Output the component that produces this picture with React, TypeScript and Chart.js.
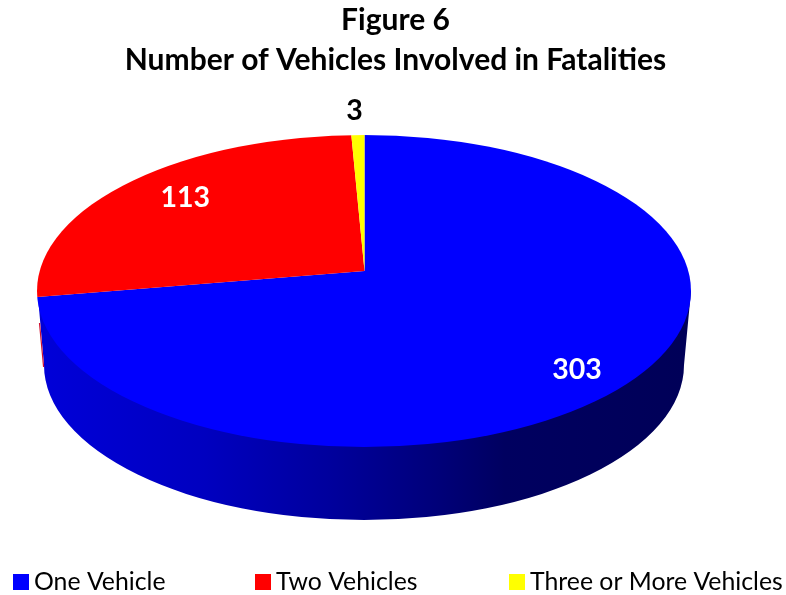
import React, { useEffect, useRef } from "react";
import { Chart, registerables } from "chart.js";

Chart.register(...registerables);

const categories = ["One Vehicle", "Two Vehicles", "Three or More Vehicles"];
const vehicleCounts = [303, 113, 3];
const sliceColors = ["#0000ff", "#ff0000", "#ffff00"];
const labelColors = ["#ffffff", "#ffffff", "#000000"];
const titleLines = ["Figure 6", "Number of Vehicles Involved in Fatalities"];
const FONT = "Lato, Carlito, Calibri, 'Open Sans', sans-serif";

// Projection of the pie on the page
const APEX = { x: 364.5, y: 271 };
const FAN = { rx: 420, ry: 195 };
const TOP = { cx: 364, cy: 291, rx: 327, ry: 156 };
const BOTTOM = { cx: 364, cy: 365, rx: 320, ry: 155 };
// radial placement of data labels, as fractions of the fan radii
const labelFractions = [
  [0.662, 0.785],
  [0.548, 0.6],
  [1.06, 0.82],
];
// Legend layout
const legendBoxX = [13, 255, 509];
const LEGEND_Y = 582;

const pie3d = {
  id: "pie3d",
  beforeDatasetsDraw(chart: any) {
    const ctx = chart.ctx;
    const arcs = chart.getDatasetMeta(0).data;
    const r = arcs[0].outerRadius;
    // side wall
    ctx.save();
    ctx.beginPath();
    ctx.ellipse(BOTTOM.cx, BOTTOM.cy, BOTTOM.rx, BOTTOM.ry, 0, 0, Math.PI);
    ctx.lineTo(TOP.cx - TOP.rx + 1, TOP.cy + 6);
    ctx.lineTo(TOP.cx + TOP.rx, TOP.cy);
    ctx.closePath();
    const g = ctx.createLinearGradient(BOTTOM.cx - BOTTOM.rx, 0, BOTTOM.cx + BOTTOM.rx, 0);
    g.addColorStop(0, "#0000d8");
    g.addColorStop(0.25, "#0000c0");
    g.addColorStop(0.45, "#00009c");
    g.addColorStop(0.62, "#000078");
    g.addColorStop(0.72, "#000060");
    g.addColorStop(1, "#000058");
    ctx.fillStyle = g;
    ctx.fill();
    // the sliver of the second slice's wall
    ctx.strokeStyle = "#d01030";
    ctx.lineWidth = 1.2;
    ctx.beginPath();
    ctx.moveTo(TOP.cx - TOP.rx + 2.5, TOP.cy + 32);
    ctx.lineTo(BOTTOM.cx - BOTTOM.rx - 0.4, BOTTOM.cy + 2);
    ctx.stroke();
    ctx.restore();

    // top face: the library's arcs, fanned from the apex and cut by the rim
    ctx.save();
    ctx.beginPath();
    ctx.ellipse(TOP.cx, TOP.cy, TOP.rx, TOP.ry, 0, 0, Math.PI * 2);
    ctx.clip();
    ctx.translate(APEX.x, APEX.y);
    ctx.scale(FAN.rx / r, FAN.ry / r);
    ctx.translate(-arcs[0].x, -arcs[0].y);
  },
  afterDatasetsDraw(chart: any) {
    const ctx = chart.ctx;
    ctx.restore();
    const arcs = chart.getDatasetMeta(0).data;
    // data labels
    ctx.save();
    ctx.font = `bold 28.5px ${FONT}`;
    ctx.textAlign = "center";
    ctx.textBaseline = "middle";
    arcs.forEach((arc: any, i: number) => {
      const mid = (arc.startAngle + arc.endAngle) / 2;
      const [fx, fy] = labelFractions[i];
      ctx.fillStyle = labelColors[i];
      ctx.fillText(
        String(chart.data.datasets[0].data[i]),
        APEX.x + Math.cos(mid) * FAN.rx * fx,
        APEX.y + Math.sin(mid) * FAN.ry * fy
      );
    });
    // legend
    ctx.font = `24.8px ${FONT}`;
    ctx.textAlign = "left";
    chart.data.labels.forEach((label: string, i: number) => {
      ctx.fillStyle = sliceColors[i];
      ctx.fillRect(legendBoxX[i], LEGEND_Y - 8, 16, 16);
      ctx.fillStyle = "#000000";
      ctx.fillText(label, legendBoxX[i] + 21, LEGEND_Y);
    });
    ctx.restore();
  },
};

export default function App() {
  const ref = useRef<HTMLCanvasElement>(null);
  useEffect(() => {
    const chart = new Chart(ref.current as HTMLCanvasElement, {
      type: "pie",
      data: {
        labels: categories,
        datasets: [
          {
            data: vehicleCounts,
            backgroundColor: sliceColors,
            borderWidth: 0,
            clip: false,
          } as any,
        ],
      },
      options: {
        animation: false,
        responsive: false,
        rotation: 0,
        layout: { padding: { left: 5, top: 0, bottom: 60 } },
        plugins: {
          legend: { display: false },
          tooltip: { enabled: false },
          title: {
            display: true,
            text: titleLines,
            color: "#000000",
            font: { family: FONT, size: 30, weight: "bold", lineHeight: 1.333 },
            padding: { top: 0, bottom: 10 },
          },
        },
      },
      plugins: [pie3d],
    } as any);
    return () => chart.destroy();
  }, []);
  return (
    <div style={{ position: "absolute", left: 0, top: 0, width: 786, height: 595 }}>
      <canvas ref={ref} width={786} height={595} style={{ display: "block" }} />
    </div>
  );
}
